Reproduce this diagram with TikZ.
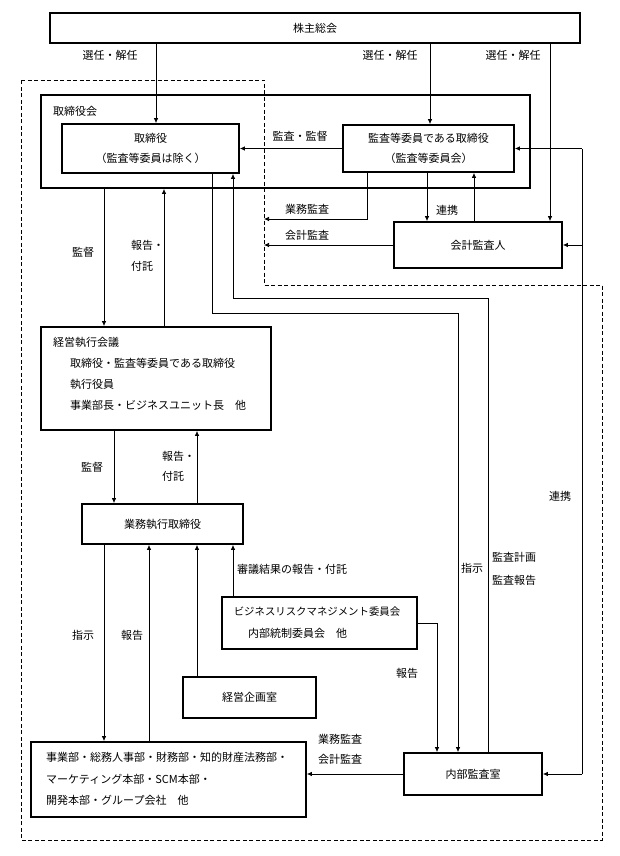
\documentclass[tikz,border=0pt]{standalone}
\usepackage{fontspec}
\setmainfont{Noto Sans CJK JP}
\usetikzlibrary{arrows.meta}
\newcommand\jpfs{\fontsize{11}{20}\selectfont}
\newcommand\jpsmall{\fontsize{10.4}{20}\selectfont}
\begin{document}
\begin{tikzpicture}[x=1pt,y=-1pt,
  box/.style={draw, line width=1.8pt, inner sep=0pt, align=center, font=\jpfs},
  arr/.style={line width=0.7pt, -{Latex[length=5pt,width=4.5pt]}},
  ln/.style={line width=0.7pt},
  lab/.style={inner sep=0pt, font=\jpfs, align=left},
  dashline/.style={line width=0.7pt, dash pattern=on 4pt off 2.5pt}]
\useasboundingbox (0,0) rectangle (620,856);
\fill[white] (0,0) rectangle (620,856);

% dashed region
\draw[dashline] (21,80) -- (264,80) -- (264,285) -- (602,285) -- (602,840) -- (21,840) -- cycle;

% boxes
\node[box, minimum width=530pt, minimum height=30pt] (gm) at (315,28) {株主総会};
\node[box, minimum width=489pt, minimum height=93pt] (board) at (285.5,141.5) {};
\node[lab, anchor=west] (boardlab) at (53,111) {取締役会};
\node[box, minimum width=177pt, minimum height=49pt, fill=white] (dir) at (150.5,148.5) {取締役\\（監査等委員は除く）};
\node[box, minimum width=171pt, minimum height=47pt, fill=white] (ac) at (428.5,148.5) {監査等委員である取締役\\（監査等委員会）};
\node[box, minimum width=168pt, minimum height=46pt] (aud) at (478,245) {会計監査人};
\node[box, minimum width=230pt, minimum height=103pt] (mec) at (156,378.5) {};
\node[lab, anchor=west] (mec1) at (53,342) {経営執行会議};
\node[lab, anchor=west] (mec2) at (70,363) {取締役・監査等委員である取締役};
\node[lab, anchor=west] (mec3) at (70,384) {執行役員};
\node[lab, anchor=west] (mec4) at (70,405) {事業部長・ビジネスユニット長　他};
\node[box, minimum width=161pt, minimum height=40pt] (exe) at (162.5,524) {業務執行取締役};
\node[box, minimum width=195pt, minimum height=52pt] (brm) at (319.5,623) {};
\node[lab, font=\jpsmall] (brm1) at (317,612) {ビジネスリスクマネジメント委員会};
\node[lab, anchor=west] (brm2) at (248,633) {内部統制委員会　他};
\node[box, minimum width=133pt, minimum height=41pt] (plan) at (249.5,697.5) {経営企画室};
\node[box, minimum width=275pt, minimum height=75pt] (div) at (168.5,779.5) {};
\node[lab, anchor=west] (div1) at (46,757) {事業部・総務人事部・財務部・知的財産法務部・};
\node[lab, anchor=west] (div2) at (46,779) {マーケティング本部・SCM本部・};
\node[lab, anchor=west] (div3) at (46,800) {開発本部・グループ会社　他};
\node[box, minimum width=138pt, minimum height=42pt] (ia) at (473,774) {内部監査室};

% free ends on the dashed line
\coordinate (d1) at (264,219);
\coordinate (d2) at (264,245);

% connectors
\draw[arr] (gm.south -| 156,0) -- (dir.north -| 156,0);
\draw[arr] (gm.south -| 430,0) -- (ac.north -| 430,0);
\draw[arr] (gm.south -| 550,0) -- (aud.north -| 550,0);
\draw[arr] (ac.west) -- (dir.east);
\draw[arr] (ac.south -| 367,0) |- (d1);
\draw[arr] (aud.west) -- (d2);
\draw[arr] (ac.south -| 427,0) -- (aud.north -| 427,0);
\draw[arr] (aud.north -| 474,0) -- (ac.south -| 474,0);
\draw[ln] (ia.east -| 582,0) -- (ac.east -| 582,0);
\draw[arr] (ac.east -| 582,0) -- (ac.east);
\draw[arr] (aud.east -| 582,0) -- (aud.east);
\draw[arr] (ia.east -| 582,0) -- (ia.east);
\draw[arr] (board.south -| 104,0) -- (mec.north -| 104,0);
\draw[arr] (mec.north -| 164,0) -- (board.south -| 164,0);
\draw[arr] (dir.south -| 212,0) |- (458,313) -- (ia.north -| 458,0);
\draw[arr] (ia.north -| 488,0) |- (233,298) -- (dir.south -| 233,0);
\draw[arr] (mec.south -| 114,0) -- (exe.north -| 114,0);
\draw[arr] (exe.north -| 197,0) -- (mec.south -| 197,0);
\draw[arr] (exe.south -| 104,0) -- (div.north -| 104,0);
\draw[arr] (div.north -| 149,0) -- (exe.south -| 149,0);
\draw[arr] (plan.north -| 197,0) -- (exe.south -| 197,0);
\draw[arr] (brm.north -| 233,0) -- (exe.south -| 233,0);
\draw[arr] (brm.east) -| (ia.north -| 437,0);
\draw[arr] (ia.west) -- (ia.west -| div.east);

% labels
\node[lab] (l1) at (110,55) {選任・解任};
\node[lab] (l2) at (390,55) {選任・解任};
\node[lab] (l3) at (513,55) {選任・解任};
\node[lab] (l4) at (300,136) {監査・監督};
\node[lab] (l5) at (307,209) {業務監査};
\node[lab] (l6) at (307,235) {会計監査};
\node[lab] (l7) at (447,210) {連携};
\node[lab] (l8) at (83,252) {監督};
\node[lab, anchor=west] (l9) at (131,245) {報告・};
\node[lab, anchor=west] (l10) at (131,266) {付託};
\node[lab] (l11) at (92,467) {監督};
\node[lab, anchor=west] (l12) at (162,456) {報告・};
\node[lab, anchor=west] (l13) at (162,476) {付託};
\node[lab] (l14) at (83,635) {指示};
\node[lab] (l15) at (132,635) {報告};
\node[lab, anchor=west] (l16) at (237,569) {審議結果の報告・付託};
\node[lab] (l17) at (472,568) {指示};
\node[lab, anchor=west] (l18) at (492,557) {監査計画};
\node[lab, anchor=west] (l19) at (492,580) {監査報告};
\node[lab] (l20) at (560,496) {連携};
\node[lab] (l21) at (407,673) {報告};
\node[lab] (l22) at (340,739) {業務監査};
\node[lab] (l23) at (340,759) {会計監査};
\end{tikzpicture}
\end{document}
